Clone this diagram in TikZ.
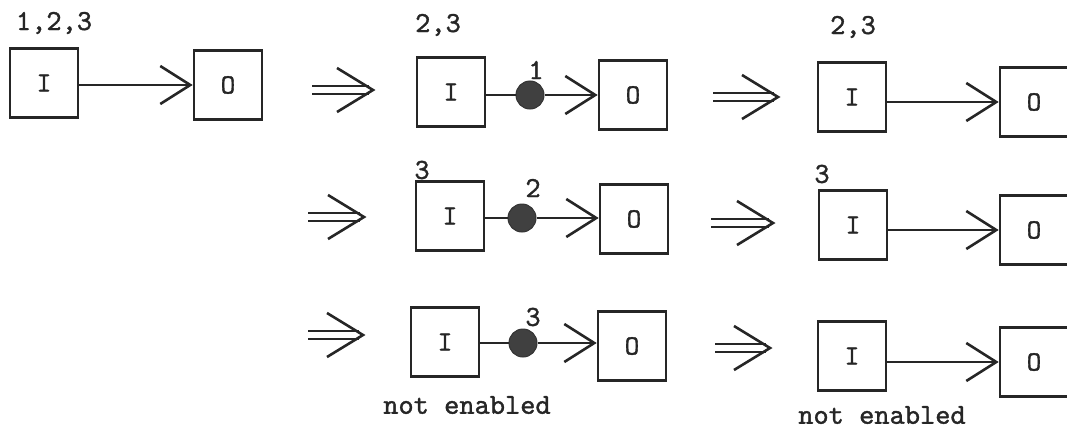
\documentclass[tikz,border=0pt]{standalone}
\usepackage{fontspec}
\newfontfamily\tw[FakeBold=1.2]{lmmono10-regular.otf}
\usetikzlibrary{arrows.meta,calc}
\begin{document}
\begin{tikzpicture}[x=1pt,y=-1pt,
  ink/.style={draw=black!85, line width=2.6pt},
  box/.style={ink, rectangle, minimum width=68pt, minimum height=69pt, inner sep=0pt, font=\tw\fontsize{28}{32}\selectfont, text=black!85},
  lab/.style={inner sep=0pt, font=\tw\fontsize{29}{33}\selectfont, text=black!85},
  token/.style={circle, fill=black!75, draw=black!80, line width=1pt, minimum size=28pt, inner sep=0pt},
  arr/.style={ink, -{Straight Barb[length=30pt, width=38pt, line width=2.6pt]}},
  seg/.style={ink},
  dblline/.style={draw=black!85, line width=2.4pt, double=white, double distance=5.5pt, shorten >=4pt},
  barb/.style={ink, line join=miter}
]
\useasboundingbox (0,0) rectangle (1067,431);

% ---------- row 1 left ----------
\node[box] (i0) at (44,83) {I};
\node[box] (o0) at (228,85) {O};
\node[lab] (l0) at (54,23) {1,2,3};
\draw[arr] (i0.east |- o0.west) -- (o0.west);

% ---------- double arrows ----------
\foreach \n/\ax/\bx/\yy in {a/312/373/90, b/713/778/97, c/308/364/217, d/711/773/223, e/308/363/335, f/715/770/348}{
  \coordinate (\n s) at (\ax,\yy);
  \coordinate (\n t) at (\bx,\yy);
  \draw[dblline] (\n s) -- (\n t);
  \draw[barb] ($(\n t)+(-36,-22)$) -- (\n t) -- ($(\n t)+(-36,22)$);
}

% ---------- row 1 middle ----------
\node[box] (i1) at (451,92) {I};
\node[box] (o1) at (633,95) {O};
\node[token] (p1) at (530,95) {};
\node[lab] (l1) at (438,25) {2,3};
\node[lab] (n1) at (536,70) {1};
\draw[seg] (i1.east |- p1) -- (p1);
\draw[arr] (p1) -- (p1 -| o1.west);

% ---------- row 1 right ----------
\node[box] (i2) at (852,97) {I};
\node[box] (o2) at (1034,102) {O};
\node[lab] (l2) at (853,27) {2,3};
\draw[arr] (i2.east |- o2.west) -- (o2.west);

% ---------- row 2 middle ----------
\node[box] (i3) at (450,216) {I};
\node[box] (o3) at (634,219) {O};
\node[token] (p3) at (522,218) {};
\node[lab] (l3) at (422,170) {3};
\node[lab] (n3) at (533,188) {2};
\draw[seg] (i3.east |- p3) -- (p3);
\draw[arr] (p3) -- (p3 -| o3.west);

% ---------- row 2 right ----------
\node[box] (i4) at (853,225) {I};
\node[box] (o4) at (1034,230) {O};
\node[lab] (l4) at (822,174) {3};
\draw[arr] (i4.east |- o4.west) -- (o4.west);

% ---------- row 3 middle ----------
\node[box] (i5) at (445,342) {I};
\node[box] (o5) at (632,346) {O};
\node[token] (p5) at (523,343) {};
\node[lab] (n5) at (533,317) {3};
\node[lab] (t5) at (467,405) {not enabled};
\draw[seg] (i5.east |- p5) -- (p5);
\draw[arr] (p5) -- (p5 -| o5.west);

% ---------- row 3 right ----------
\node[box] (i6) at (852,356) {I};
\node[box] (o6) at (1034,362) {O};
\node[lab] (t6) at (882,415) {not enabled};
\draw[arr] (i6.east |- o6.west) -- (o6.west);
\end{tikzpicture}
\end{document}
